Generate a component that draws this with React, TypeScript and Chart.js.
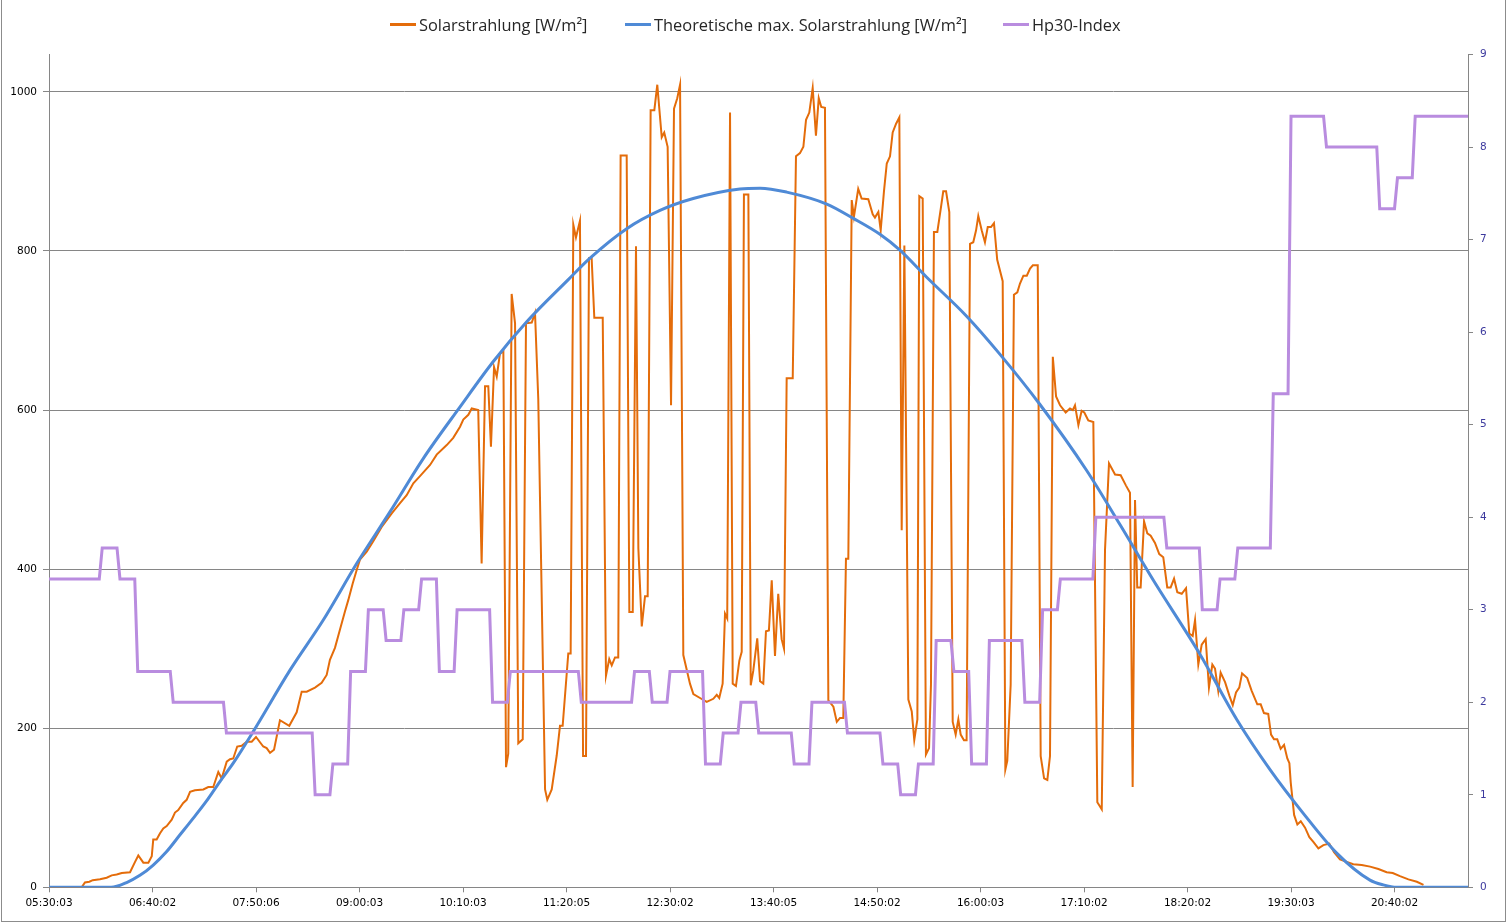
import React, { useEffect, useRef } from "react";
import { Chart, registerables } from "chart.js";

Chart.register(...registerables);

// ---- tick labels (x axis: minutes since 05:30:03, label every 70 min) ----
const tickLabels = [
  "05:30:03", "06:40:02", "07:50:06", "09:00:03", "10:10:03", "11:20:05", "12:30:02",
  "13:40:05", "14:50:02", "16:00:03", "17:10:02", "18:20:02", "19:30:03", "20:40:02",
];
const tickStepMinutes = 70;
const xMaxMinutes = 959.7;
const leftTicks = [0, 200, 400, 600, 800, 1000];
const leftMax = 1047;
const rightTicks = [0, 1, 2, 3, 4, 5, 6, 7, 8, 9];

// ---- Solarstrahlung [W/m²] : (minute, value) ----
const solarMinutes = [
  0, 22.1, 24.3, 27.3, 29.6, 34.5, 39.0, 42.4, 45.8, 49.2, 54.8, 58.2, 60.4, 63.8, 67.2, 69.5,
  70.5, 72.8, 75.1, 77.3, 79.6, 83.0, 85.2, 87.4, 90.8, 93.1, 95.4, 98.7, 104.4, 107.7, 111.1,
  114.5, 116.8, 120.2, 122.4, 124.6, 127.3, 130.3, 133.7, 137.1, 140.0, 144.9, 147.2, 149.5,
  152.2, 156.2, 162.5, 167.5, 170.9, 174.3, 179.9, 184.4, 187.8, 190.0, 193.4, 196.8, 200.2,
  202.4, 205.4, 208.1, 210.3, 214.9, 219.3, 225.0, 231.8, 237.4, 241.9, 246.4, 250.9, 257.7,
  262.2, 269.0, 273.4, 278.0, 280.2, 283.6, 285.9, 290.3, 292.6, 294.9, 297.1, 298.9, 301.0,
  302.8, 305.0, 307.3, 309.1, 310.6, 312.9, 315.2, 317.4, 320.4, 322.6, 326.5, 328.7, 330.9,
  335.5, 337.0, 340.0, 343.4, 345.6, 347.4, 351.2, 352.8, 354.6, 356.4, 359.1, 361.2, 363.2,
  365.2, 367.0, 368.8, 374.5, 376.7, 378.9, 380.6, 382.8, 385.0, 386.6, 390.7, 392.5, 394.8,
  397.0, 398.6, 400.9, 403.1, 404.9, 406.9, 409.4, 411.4, 414.4, 416.1, 418.4, 420.7, 422.7,
  424.9, 426.8, 429.0, 433.5, 435.8, 440.3, 444.8, 449.3, 451.6, 453.3, 455.6, 457.2, 458.7,
  460.6, 462.4, 464.6, 466.9, 468.5, 470.0, 473.0, 474.6, 476.3, 479.0, 480.9, 483.1, 484.9,
  486.9, 488.8, 491.0, 493.2, 495.5, 497.1, 498.9, 503.0, 505.2, 507.9, 510.2, 512.0, 514.2,
  516.5, 518.7, 520.6, 522.3, 524.8, 527.1, 530.5, 532.8, 535.0, 537.2, 539.0, 540.6, 542.9,
  544.4, 547.3, 549.6, 554.1, 557.1, 558.6, 560.9, 562.5, 564.7, 566.6, 568.8, 570.6, 572.9,
  575.1, 576.7, 578.5, 581.2, 583.5, 585.2, 587.3, 588.6, 590.9, 593.1, 595.2, 596.5, 598.5,
  600.8, 603.1, 604.8, 606.7, 608.9, 611.2, 613.2, 615.0, 616.6, 618.8, 620.6, 622.9, 625.1,
  627.0, 628.5, 630.8, 633.0, 634.9, 637.1, 639.1, 641.3, 645.0, 646.8, 648.1, 650.4, 652.6,
  654.9, 656.7, 659.0, 661.3, 663.5, 665.4, 668.7, 670.7, 673.0, 675.2, 677.0, 678.9, 681.1,
  683.8, 687.6, 690.5, 692.4, 693.9, 696.2, 698.4, 700.2, 702.9, 706.3, 709.0, 712.0, 714.2,
  716.9, 721.0, 724.8, 728.4, 731.1, 732.9, 734.5, 736.0, 738.3, 740.6, 742.8, 745.1, 748.0,
  750.9, 753.6, 756.3, 758.6, 760.9, 763.1, 766.1, 769.0, 771.2, 773.5, 775.1, 777.3, 779.6,
  782.3, 784.5, 786.8, 788.6, 790.8, 792.4, 795.4, 798.3, 800.6, 802.8, 805.0, 806.9, 810.4,
  813.4, 817.2, 819.5, 821.7, 824.6, 826.5, 828.5, 830.7, 833.0, 835.3, 837.5, 838.9, 839.8,
  842.1, 844.3, 846.6, 849.5, 852.4, 855.1, 858.5, 861.9, 865.9, 869.1, 873.1, 877.7, 882.1,
  887.8, 893.5, 899.1, 904.7, 908.8, 913.7, 919.4, 925.1, 929.6,
];
const solarValues = [
  0, 0, 6, 7, 9, 10, 12, 15, 16, 18, 19, 32, 40, 31, 31, 39,
  60, 60, 68, 74, 77, 85, 94, 97, 106, 110, 120, 122, 123, 126, 126,
  145, 137, 158, 161, 162, 177, 178, 183, 183, 189, 177, 175, 169,
  173, 210, 203, 220, 246, 246, 251, 257, 267, 286, 301, 324, 347,
  361, 382, 399, 412, 422, 435, 453, 470, 483, 493, 508, 517, 531,
  544, 556, 565, 579, 588, 594, 602, 600, 407, 630, 630, 554, 654,
  642, 671, 674, 151, 168, 746, 709, 181, 186, 709, 710, 722, 614,
  123, 110, 123, 166, 203, 203, 294, 294, 833, 817, 838, 165, 165,
  791, 791, 716, 716, 266, 287, 279, 289, 289, 920, 920, 346, 346,
  806, 426, 328, 366, 366, 977, 977, 1009, 943, 949, 931, 606, 979,
  992, 1009, 292, 256, 243, 238, 233, 237, 242, 238, 256, 344, 338,
  974, 256, 253, 285, 296, 871, 871, 254, 272, 313, 259, 256, 322,
  323, 386, 291, 369, 312, 300, 640, 640, 919, 923, 931, 965, 974,
  1005, 945, 992, 981, 980, 235, 227, 208, 213, 213, 413, 413, 864,
  843, 878, 866, 865, 846, 842, 849, 826, 875, 910, 919, 949, 960,
  968, 449, 807, 236, 221, 185, 211, 869, 866, 167, 175, 255, 824,
  824, 853, 875, 875, 849, 208, 192, 211, 192, 185, 185, 809, 811,
  826, 844, 826, 811, 830, 830, 835, 789, 762, 148, 159, 255, 745,
  748, 759, 769, 769, 778, 782, 782, 165, 137, 135, 165, 667, 617,
  606, 597, 602, 600, 606, 581, 599, 597, 587, 585, 107, 98, 424,
  533, 519, 518, 505, 496, 126, 487, 377, 377, 460, 445, 442, 433,
  419, 415, 377, 377, 388, 371, 369, 376, 319, 316, 336, 280, 305,
  312, 251, 280, 275, 247, 270, 258, 241, 229, 245, 251, 269, 263,
  247, 230, 230, 219, 218, 192, 186, 186, 174, 179, 162, 156, 132,
  91, 79, 83, 75, 63, 57, 49, 53, 55, 44, 35, 32, 29,
  28, 26, 23, 19, 18, 14, 10, 7, 3,
];

// ---- Theoretische max. Solarstrahlung [W/m²] ----
const theoMinutes = [
  0, 42, 52.5, 61.5, 70.5, 79.6, 88.6, 97.6, 106.7, 115.6, 124.6, 138.2, 163, 185.5, 208.1,
  230.6, 253.1, 278, 300.5, 323.1, 351.2, 365.9, 390.7, 413.2, 435.7, 467.3, 480.9, 498.9,
  526, 544, 562, 575.5, 593.6, 620.6, 643.2, 670.2, 701.8, 724.3, 746.9, 778.4, 803.3, 825.8,
  848.3, 870.9, 893.4, 902.4, 911.5, 959.7,
];
const theoValues = [
  0, 0, 6, 15, 28, 45, 66, 87, 109, 133, 156, 196, 273, 336, 407,
  472, 539, 604, 661, 711, 764, 791, 828, 851, 866, 878, 879, 874,
  859, 841, 821, 801, 767, 718, 670, 607, 524, 456, 386, 293, 211, 148,
  93, 43, 9, 3, 0, 0,
];

// ---- Hp30-Index, one value per 12-minute slot ----
const hpSlotMinutes = 12;
const hpValues = [
  3.333, 3.333, 3.333, 3.667, 3.333, 2.333, 2.333, 2, 2, 2,
  1.667, 1.667, 1.667, 1.667, 1.667, 1, 1.333, 2.333, 3, 2.667,
  3, 3.333, 2.333, 3, 3, 2, 2.333, 2.333, 2.333, 2.333,
  2, 2, 2, 2.333, 2, 2.333, 2.333, 1.333, 1.667, 2,
  1.667, 1.667, 1.333, 2, 2, 1.667, 1.667, 1.333, 1, 1.333,
  2.667, 2.333, 1.333, 2.667, 2.667, 2, 3, 3.333, 3.333, 4,
  4, 4, 4, 3.667, 3.667, 3, 3.333, 3.667, 3.667, 5.333,
  8.333, 8.333, 8, 8, 8, 7.333, 7.667, 8.333, 8.333, 8.333,
];

const ORANGE = "#E46C0A";
const BLUE = "#4F8AD6";
const PURPLE = "#B98CDF";
const GRID = "#868686";
const TICK_FONT = { family: "DejaVu Sans", size: 10.5 };

const legendItems = [
  { label: "Solarstrahlung [W/m²]", color: ORANGE, left: 390 },
  { label: "Theoretische max. Solarstrahlung [W/m²]", color: BLUE, left: 625 },
  { label: "Hp30-Index", color: PURPLE, left: 1003 },
];

export default function App() {
  const canvasRef = useRef<HTMLCanvasElement | null>(null);

  useEffect(() => {
    document.body.style.margin = "0";
    document.body.style.overflow = "hidden";
    const canvas = canvasRef.current;
    if (!canvas) return;

    const solarData = solarMinutes.map((x, i) => ({ x, y: solarValues[i] }));
    const theoData = theoMinutes.map((x, i) => ({ x, y: theoValues[i] }));
    const hpData = hpValues.flatMap((v, k) => {
      const start = k * hpSlotMinutes;
      const end = k === hpValues.length - 1 ? xMaxMinutes : start + hpSlotMinutes - 2;
      return [
        { x: start, y: v },
        { x: end, y: v },
      ];
    });

    const chart = new Chart(canvas, {
      type: "line",
      data: {
        datasets: [
          {
            label: "Solarstrahlung [W/m²]",
            data: solarData,
            borderColor: ORANGE,
            backgroundColor: ORANGE,
            borderWidth: 2,
            pointRadius: 0,
            tension: 0,
            yAxisID: "y",
            order: 3,
          },
          {
            label: "Theoretische max. Solarstrahlung [W/m²]",
            data: theoData,
            borderColor: BLUE,
            backgroundColor: BLUE,
            borderWidth: 3,
            pointRadius: 0,
            cubicInterpolationMode: "monotone",
            yAxisID: "y",
            order: 2,
          },
          {
            label: "Hp30-Index",
            data: hpData,
            borderColor: PURPLE,
            backgroundColor: PURPLE,
            borderWidth: 3,
            pointRadius: 0,
            tension: 0,
            yAxisID: "y1",
            order: 1,
          },
        ],
      },
      options: {
        responsive: false,
        animation: false,
        parsing: true,
        layout: { padding: { top: 54.5, left: 0, right: 0, bottom: 0 } },
        plugins: {
          legend: { display: false },
          title: { display: false },
          tooltip: { enabled: false },
        },
        scales: {
          x: {
            type: "linear",
            min: 0,
            max: xMaxMinutes,
            afterBuildTicks: (s: any) => {
              s.ticks = tickLabels.map((_, i) => ({ value: i * tickStepMinutes }));
            },
            afterFit: (s: any) => {
              s.height = 36.7;
            },
            ticks: {
              autoSkip: false,
              maxRotation: 0,
              minRotation: 0,
              padding: 5,
              color: "#000",
              font: TICK_FONT,
              callback: (v: any) => tickLabels[Math.round(Number(v) / tickStepMinutes)] ?? "",
            },
            grid: { drawOnChartArea: false, drawTicks: true, tickLength: 5, color: GRID },
            border: { display: true, color: GRID, width: 1 },
          },
          y: {
            type: "linear",
            position: "left",
            min: 0,
            max: leftMax,
            afterBuildTicks: (s: any) => {
              s.ticks = leftTicks.map((value) => ({ value }));
            },
            afterFit: (s: any) => {
              s.width = 49;
            },
            ticks: { padding: 6, color: "#000", font: TICK_FONT, callback: (v: any) => String(v) },
            grid: { drawOnChartArea: true, drawTicks: true, tickLength: 6, color: GRID, lineWidth: 1 },
            border: { display: true, color: GRID, width: 1 },
          },
          y1: {
            type: "linear",
            position: "right",
            min: 0,
            max: 9,
            afterBuildTicks: (s: any) => {
              s.ticks = rightTicks.map((value) => ({ value }));
            },
            afterFit: (s: any) => {
              s.width = 40;
            },
            ticks: { padding: 7, color: "#3D3A9E", font: TICK_FONT, callback: (v: any) => String(v) },
            grid: { drawOnChartArea: false, drawTicks: true, tickLength: 5, color: GRID },
            border: { display: true, color: GRID, width: 1 },
          },
        },
      },
    });

    return () => chart.destroy();
  }, []);

  return (
    <div style={{ position: "absolute", left: 0, top: 0, width: 1508, height: 924, background: "#fff", overflow: "hidden" }}>
      <canvas ref={canvasRef} width={1508} height={924} style={{ display: "block", width: 1508, height: 924 }} />
      {legendItems.map((it) => (
        <div
          key={it.label}
          style={{
            position: "absolute",
            top: 13,
            left: it.left,
            height: 22,
            display: "flex",
            alignItems: "center",
            whiteSpace: "nowrap",
            fontFamily: '"Open Sans", "Noto Sans", sans-serif',
            fontSize: 16.4,
            color: "#262626",
          }}
        >
          <span style={{ display: "inline-block", width: 26, height: 3, background: it.color, marginRight: 3 }} />
          <span>{it.label}</span>
        </div>
      ))}
      <div
        style={{
          position: "absolute",
          left: 1,
          top: -2,
          width: 1505,
          height: 924,
          boxSizing: "border-box",
          border: "1px solid #8c8c8c",
          pointerEvents: "none",
        }}
      />
    </div>
  );
}
